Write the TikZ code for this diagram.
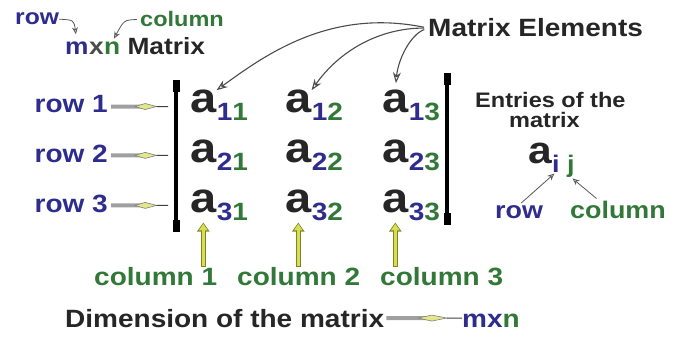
\documentclass[tikz,border=0pt]{standalone}
\usepackage{fontspec}
\setmainfont[FakeStretch=1.12]{Liberation Sans}
\usetikzlibrary{arrows.meta,calc}

\definecolor{rowblue}{RGB}{46,44,140}
\definecolor{colgreen}{RGB}{50,120,56}
\definecolor{shaftgray}{RGB}{160,160,160}
\definecolor{leadyellow}{RGB}{228,230,140}
\definecolor{liftyellow}{RGB}{214,222,84}
\definecolor{liftedge}{RGB}{130,130,30}

\newcommand{\fs}[1]{\fontsize{#1}{#1}\selectfont\bfseries}

% horizontal pencil-like pointer
\newcommand{\pencilarrow}[2]{%
  \draw[shaftgray, line width=4pt] (#1) -- ($(#1)!0.6!(#2)$);
  \draw[gray, fill=leadyellow, line width=0.6pt] ($(#1)!0.42!(#2)$) -- ($(#1)!0.6!(#2)+(0,-3)$) -- ($(#1)!0.8!(#2)$) -- ($(#1)!0.6!(#2)+(0,3)$) -- cycle;
  \draw[black!75, line width=1pt] ($(#1)!0.8!(#2)$) -- (#2);
}

% upward yellow pointer
\newcommand{\liftarrow}[2]{%
  \draw[liftedge, line width=5.5pt, -{Triangle[length=9pt,width=12pt]}] (#1) -- (#2);
  \draw[liftyellow, line width=3.5pt, shorten <=1pt, shorten >=1.3pt, -{Triangle[length=6.5pt,width=8.5pt]}] (#1) -- (#2);
}

\begin{document}
\begin{tikzpicture}[x=1pt, y=-1pt,
  txt/.style={inner sep=0pt, anchor=base west, text=black!85},
  entry/.style={txt, font=\fs{42}},
  subidx/.style={txt, font=\fs{25}},
  ptr/.style={black!70, line width=1.1pt, shorten <=4pt, -{Stealth[open, length=11pt, width=8pt]}},
  tinyptr/.style={black!65, line width=0.8pt, -{Stealth[open, length=7pt, width=6pt]}}]
  \fill[white] (0,0) rectangle (676,339);

  % m x n heading
  \node[txt, font=\fs{22}, text=rowblue] (rowtop) at (15,25) {row};
  \node[txt, font=\fs{21}, text=colgreen] (coltop) at (140,27) {column};
  \node[txt, font=\fs{23.5}, text=rowblue] (mm) at (65,55) {m};
  \node[txt, font=\fs{23.5}, text=black!70] (xx) at (mm.base east) {x};
  \node[txt, font=\fs{23.5}, text=colgreen] (nn) at (xx.base east) {n};
  \node[txt, font=\fs{23.5}] (mword) at ([xshift=7pt]nn.base east) {Matrix};
  \draw[tinyptr, shorten >=8pt] (rowtop.east) .. controls (74,20) .. (mm.north);
  \draw[tinyptr, shorten >=4pt] ([xshift=-3pt]coltop.west) .. controls (124,20) .. (nn.north);

  % brackets
  \coordinate (lbrk) at (176,80);
  \coordinate (lbrkend) at (176,232);
  \coordinate (rbrk) at (447,73);
  \coordinate (rbrkend) at (447,225);
  \draw[line width=4.5pt] (lbrk) -- (lbrkend);
  \draw[line width=7pt] (lbrk) -- ++(0,12);
  \draw[line width=7pt] (lbrkend) -- ++(0,-12);
  \draw[line width=4.5pt] (rbrk) -- (rbrkend);
  \draw[line width=7pt] (rbrk) -- ++(0,12);
  \draw[line width=7pt] (rbrkend) -- ++(0,-12);

  % rows and entries
  \foreach \r/\y in {1/113, 2/162, 3/212} {
    \node[txt, font=\fs{25}, text=rowblue, anchor=base east] (row\r) at (108,\y) {row \r};
    \foreach \c/\x in {1/190, 2/285, 3/382} {
      \node[entry] (a\r\c) at (\x,\y) {a};
      \node[subidx] (s\r\c) at ([yshift=-8pt]a\r\c.base east) {\textcolor{rowblue}{\r}\textcolor{colgreen}{\c}};
    }
    \coordinate (p\r a) at ($(row\r.east)+(3,2)$);
    \coordinate (p\r b) at ($(row\r.east -| lbrk)+(-8,2)$);
    \pencilarrow{p\r a}{p\r b}
  }

  % Matrix Elements
  \node[txt, font=\fs{25}] (elems) at (428,37) {Matrix Elements};
  \draw[ptr] (elems.west) .. controls (330,8) and (265,55) .. (a11.north east);
  \draw[ptr] (elems.west) .. controls (380,28) and (340,50) .. (a12.north east);
  \draw[ptr, shorten >=7pt] (elems.west) .. controls (410,35) and (398,60) .. (a13.north);

  % columns
  \foreach \c/\x in {1/94, 2/237, 3/380} {
    \node[txt, font=\fs{25}, text=colgreen] (col\c) at (\x,285) {column \c};
    \liftarrow{col\c.north -| a3\c}{[yshift=-10pt]a3\c.south}
  }

  % dimension
  \node[txt, font=\fs{25}] (dim) at (65,327) {Dimension of the matrix};
  \node[txt, font=\fs{25}] (dimmxn) at (462,327) {\textcolor{rowblue}{mx}\textcolor{colgreen}{n}};
  \coordinate (d a) at ($(dim.east)+(2,0)$);
  \coordinate (d b) at (dim.east -| dimmxn.west);
  \pencilarrow{d a}{d b}

  % entries of the matrix
  \node[txt, font=\fs{21}] (ent1) at (475,108) {Entries of the};
  \node[txt, font=\fs{21}] (ent2) at (509,128) {matrix};
  \node[txt, font=\fs{38}] (aij) at (528,164) {a};
  \node[txt, font=\fs{24}, text=rowblue] (ii) at (552,172) {i};
  \node[txt, font=\fs{24}, text=colgreen] (jj) at (567,172) {j};
  \node[txt, font=\fs{24}, text=rowblue] (rowij) at (495,218) {row};
  \node[txt, font=\fs{24}, text=colgreen] (colij) at (570,218) {column};
  \draw[tinyptr, shorten <=3pt, shorten >=2pt] (rowij.north) -- (ii.south);
  \draw[tinyptr, shorten <=3pt, shorten >=2pt] ($(colij.north west)!0.3!(colij.north east)$) -- (jj.south);
\end{tikzpicture}
\end{document}
